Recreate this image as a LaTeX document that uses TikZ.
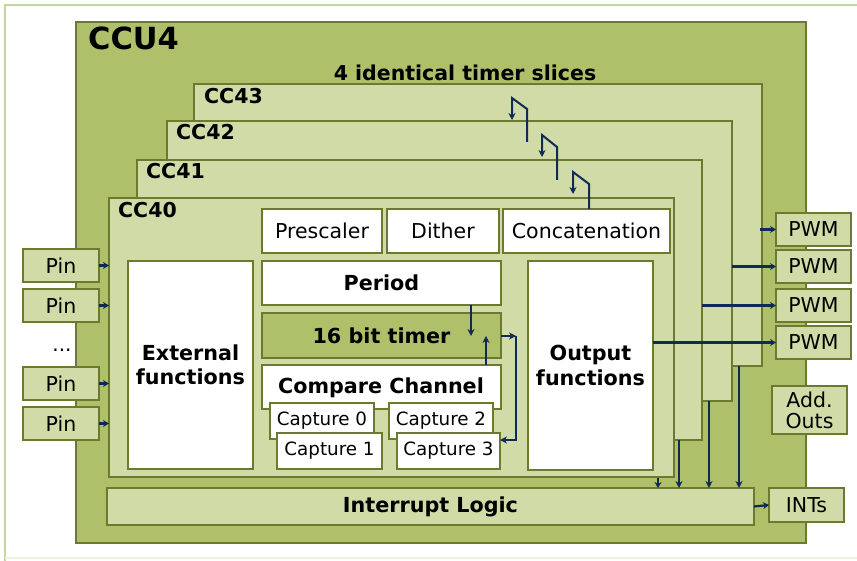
\documentclass[tikz,border=0pt]{standalone}
\usepackage{fontspec}
\setmainfont{DejaVu Sans}
\usetikzlibrary{arrows.meta}
\definecolor{dkg}{HTML}{AFC06A}
\definecolor{ltg}{HTML}{D0DBA7}
\definecolor{bord}{HTML}{6B7A2F}
\definecolor{frm}{HTML}{C4D79B}
\definecolor{navy}{HTML}{0E2A55}
\tikzset{
  base/.style={anchor=north west, inner sep=0pt, outer sep=0pt, align=center},
  slice/.style={base, draw=bord, fill=ltg, line width=2pt},
  wbox/.style={base, draw=bord, fill=white, line width=1.6pt, font=\fontsize{20.5}{24}\selectfont},
  gbox/.style={base, draw=bord, fill=ltg, line width=1.8pt, font=\fontsize{20.5}{24}\selectfont},
  capbox/.style={wbox, font=\fontsize{18.3}{22}\selectfont},
  bold/.style={font=\fontsize{20.7}{24.5}\selectfont\bfseries},
  slabel/.style={anchor=north west, inner sep=0pt, font=\fontsize{20.5}{24}\selectfont\bfseries},
  conn/.style={draw=navy, line width=2pt, -{Stealth[length=7pt,width=7pt]}},
  sconn/.style={draw=navy, line width=2.2pt, -{Stealth[length=6pt,width=7pt]}},
}
\begin{document}
\begin{tikzpicture}[x=1pt,y=-1pt]
\useasboundingbox (0,0) rectangle (857,561);
% outer frame
\draw[frm, line width=2.5pt] (5,561) -- (5,5) -- (860,5);
\draw[frm!30, line width=1.5pt] (5,558) -- (860,558);
% CCU4
\node[base, draw=bord, fill=dkg, line width=2.5pt, minimum width=730pt, minimum height=521pt] (ccu) at (76,22) {};
\node[anchor=north west, inner sep=0pt, font=\fontsize{30.5}{34}\selectfont\bfseries] (ccul) at (88,27) {CCU4};
\node[anchor=center, inner sep=0pt, font=\fontsize{20.5}{24}\selectfont\bfseries] (title) at (465,73) {4 identical timer slices};
% slices
\node[slice, minimum width=568pt, minimum height=282pt] (cc43) at (194,84) {};
\node[slabel] (l43) at (204,88) {CC43};
\node[slice, minimum width=565pt, minimum height=280pt] (cc42) at (167,121) {};
\node[slabel] (l42) at (176,124) {CC42};
\node[slice, minimum width=565pt, minimum height=280pt] (cc41) at (137,160) {};
\node[slabel] (l41) at (146,163) {CC41};
\node[slice, minimum width=565pt, minimum height=279pt] (cc40) at (109,198) {};
\node[slabel] (l40) at (118,202) {CC40};
% inner boxes
\node[wbox, minimum width=120pt, minimum height=44pt] (pre) at (262,209) {Prescaler};
\node[wbox, minimum width=112pt, minimum height=44pt] (dit) at (387,209) {Dither};
\node[wbox, minimum width=167pt, minimum height=44pt] (con) at (503,209) {Concatenation};
\node[wbox, bold, minimum width=239pt, minimum height=44pt] (per) at (262,261) {Period};
\node[wbox, bold, minimum width=125pt, minimum height=208pt] (ext) at (128,261) {External\\functions};
\node[wbox, bold, minimum width=125pt, minimum height=209pt] (out) at (528,261) {Output\\functions};
\node[base, draw=bord, fill=dkg, line width=1.8pt, bold, minimum width=239pt, minimum height=45pt] (tim) at (262,313) {16 bit timer};
\node[wbox, minimum width=239pt, minimum height=44pt] (cmp) at (262,365) {};
\node[bold, inner sep=0pt] (cmpl) at (381,388) {Compare Channel};
\node[capbox, minimum width=104pt, minimum height=36pt] (c0) at (270,403) {Capture 0};
\node[capbox, minimum width=105pt, minimum height=36pt] (c1) at (277,433) {Capture 1};
\node[capbox, minimum width=104pt, minimum height=36pt] (c2) at (389,403) {Capture 2};
\node[capbox, minimum width=103pt, minimum height=36pt] (c3) at (397,433) {Capture 3};
% interrupt logic
\node[gbox, bold, minimum width=647pt, minimum height=37pt] (irq) at (107,488) {Interrupt Logic};
\node[gbox, minimum width=75pt, minimum height=34pt] (ints) at (769,488) {INTs};
\node[gbox, minimum width=75pt, minimum height=48pt] (add) at (772,386) {Add.\\[-3pt]Outs};
% PWM
\node[gbox, minimum width=75pt, minimum height=33pt] (p1) at (776,213) {PWM};
\node[gbox, minimum width=75pt, minimum height=33pt] (p2) at (776,250) {PWM};
\node[gbox, minimum width=75pt, minimum height=33pt] (p3) at (776,289) {PWM};
\node[gbox, minimum width=75pt, minimum height=33pt] (p4) at (776,326) {PWM};
% pins
\node[gbox, minimum width=76pt, minimum height=33pt] (pin1) at (23,249) {Pin};
\node[gbox, minimum width=76pt, minimum height=33pt] (pin2) at (23,289) {Pin};
\node[font=\fontsize{20}{24}\selectfont, inner sep=0pt] (dots) at (62,350) {...};
\node[gbox, minimum width=76pt, minimum height=33pt] (pin3) at (23,367) {Pin};
\node[gbox, minimum width=76pt, minimum height=33pt] (pin4) at (23,407) {Pin};
% pin arrows
\foreach \p in {pin1,pin2,pin3,pin4}
  \draw[sconn] (\p.east) -- (\p.east -| cc40.west);
% PWM arrows
\draw[sconn] (p1.west -| 760,0) -- (p1.west);
\draw[sconn, line width=3pt] (p2.west -| cc42.east) -- (p2.west);
\draw[sconn] (p3.west -| cc41.east) -- (p3.west);
\draw[sconn] (p4.west -| out.east) -- (p4.west);
% arrows into interrupt logic
\draw[sconn] (658,478) -- (658,488);
\draw[conn] (cc41.south -| 679,0) -- (irq.north -| 679,0);
\draw[conn] (cc42.south -| 709,0) -- (irq.north -| 709,0);
\draw[conn] (cc43.south -| 739,0) -- (irq.north -| 739,0);
\draw[sconn] (irq.east) -- (ints.west);
% cascade connectors
\coordinate (z1a) at (527,142); \coordinate (z1b) at (527,109); \coordinate (z1c) at (512,98);
\draw[conn] (z1a) -- (z1b) -- (z1c) -- (512,120);
\coordinate (z2a) at (557,180); \coordinate (z2b) at (557,147); \coordinate (z2c) at (542,135);
\draw[conn] (z2a) -- (z2b) -- (z2c) -- (542,157);
\coordinate (z3b) at (589,184); \coordinate (z3c) at (573,172);
\draw[conn] (con.north -| 589,0) -- (z3b) -- (z3c) -- (573,194);
% timer arrows
\draw[conn] (per.south -| 471,0) -- (471,336);
\draw[conn] (cmp.north -| 486,0) -- (486,336);
\coordinate (rt) at (516,336);
\draw[conn] (tim.east |- rt) -- (rt);
\draw[conn] (rt) -- (516,440) -- (c3.east |- 0,440);
\end{tikzpicture}
\end{document}
